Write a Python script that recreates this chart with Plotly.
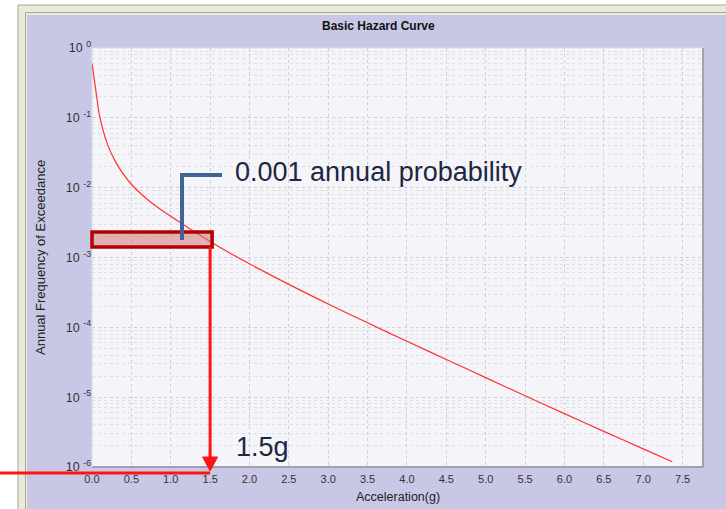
import plotly.graph_objects as go

# ---- hazard curve data -------------------------------------------------
accel_g = [0.0, 0.05, 0.1, 0.2, 0.3, 0.4, 0.5, 0.6, 0.7, 0.85, 1.0, 1.25, 1.5, 1.75,
           2.0, 2.5, 3.0, 3.5, 4.0, 4.5, 5.0, 5.5, 6.0, 6.5, 7.0, 7.37]
annual_freq = [0.6, 0.24, 0.102, 0.0407, 0.0234, 0.0155, 0.0112, 0.0086, 0.00684,
               0.00507, 0.00389, 0.00254, 0.0017, 0.00116, 8.13e-4, 4.12e-4,
               2.16e-4, 1.16e-4, 6.31e-5, 3.47e-5, 1.905e-5, 1.047e-5, 5.82e-6,
               3.24e-6, 1.82e-6, 1.19e-6]

x_ticks = [0.0, 0.5, 1.0, 1.5, 2.0, 2.5, 3.0, 3.5, 4.0, 4.5, 5.0, 5.5, 6.0, 6.5, 7.0, 7.5]
y_ticks = [1, 1e-1, 1e-2, 1e-3, 1e-4, 1e-5, 1e-6]
y_ticktext = ["10 <sup>0</sup>", "10 <sup>-1</sup>", "10 <sup>-2</sup>", "10 <sup>-3</sup>",
              "10 <sup>-4</sup>", "10 <sup>-5</sup>", "10 <sup>-6</sup>"]
y_minor = [m * d for d in [1e-1, 1e-2, 1e-3, 1e-4, 1e-5, 1e-6] for m in range(2, 10)]

design_accel = 1.5
target_label = "0.001 annual probability"
accel_label = "1.5g"

# ---- layout geometry (pixels) -------------------------------------------
FIG_W, FIG_H = 726, 509
L, T, PW, PH = 92, 48, 611, 419
X_MAX = 7.76


def px(xpix):
    return (xpix - L) / PW


def py(ypix):
    return 1 - (ypix - T) / PH


def xdata_px(xv):
    return L + xv / X_MAX * PW


LAV = "#c8c8e6"
PLOT_BG = "#f4f4f9"
GRID = "#d0d0d8"
RED = "#ff1414"
FONT = "Liberation Sans, Arial"

fig = go.Figure()
fig.add_trace(go.Scatter(
    x=accel_g, y=annual_freq, mode="lines",
    line=dict(color="#ff3030", width=1.2, shape="spline", smoothing=0.8),
    showlegend=False, hoverinfo="skip",
))

shapes = []


def rect(x0, y0, x1, y1, **kw):
    shapes.append(dict(type="rect", xref="paper", yref="paper",
                       x0=px(x0), x1=px(x1), y0=py(y1), y1=py(y0), **kw))


def line(x0, y0, x1, y1, **kw):
    shapes.append(dict(type="line", xref="paper", yref="paper",
                       x0=px(x0), x1=px(x1), y0=py(y0), y1=py(y1), **kw))


def path(points, **kw):
    d = "M " + " L ".join(f"{px(a):.5f},{py(b):.5f}" for a, b in points)
    if kw.pop("closed", False):
        d += " Z"
    shapes.append(dict(type="path", xref="paper", yref="paper", path=d, **kw))


# window frame and chart panel
rect(18, 5, 740, 520, fillcolor="#ebead9", line=dict(color="#a6a697", width=1), layer="below")
rect(25.5, 12.5, 740, 520, fillcolor="rgba(0,0,0,0)", line=dict(color="#a9a898", width=1), layer="below")
rect(27, 15, 740, 520, fillcolor=LAV, line=dict(width=0), layer="below")
rect(L, T, L + PW, T + PH, fillcolor=PLOT_BG, line=dict(color="#dcdce6", width=1), layer="below")
line(L + PW, T, L + PW, T + PH, line=dict(color="#8e8e9c", width=1.5), layer="below")
line(L, T + PH, L + PW, T + PH, line=dict(color="#8e8e9c", width=1.5), layer="below")

# callout: highlight band, leader, and read-down arrow
xa = xdata_px(design_accel)
rect(L, 232, xa + 2, 247, fillcolor="rgba(214,120,120,0.55)",
     line=dict(color="#b00000", width=3.5), layer="above")
path([(182, 240), (182, 175), (222, 175)], line=dict(color="#3f6594", width=4), layer="above")
line(xa, 247, xa, 459, line=dict(color=RED, width=3), layer="above")
path([(xa - 7.5, 457), (xa + 7.5, 457), (xa, 471)], closed=True,
     fillcolor=RED, line=dict(color=RED, width=1), layer="above")
line(-5, 473, xa, 473, line=dict(color=RED, width=3), layer="above")


def label(text, x, y, size, color, xanchor="center", **kw):
    return dict(text=text, x=px(x), y=py(y), xref="paper", yref="paper",
                xanchor=xanchor, yanchor="middle", showarrow=False,
                font=dict(family=FONT, size=size, color=color), **kw)


annotations = [
    label("<b>Basic Hazard Curve</b>", 378, 26, 12, "#111111"),
    label("Annual Frequency of Exceedance", 40, 258, 13, "#222222", textangle=-90),
    label("Acceleration(g)", 398, 497, 12.5, "#222222"),
    label(target_label, 233, 172, 27, "#1c2740", xanchor="left"),
    label(accel_label, 234, 447, 27, "#1c2740", xanchor="left"),
]

fig.update_layout(
    width=FIG_W, height=FIG_H,
    margin=dict(l=L, r=FIG_W - L - PW, t=T, b=FIG_H - T - PH, pad=0),
    paper_bgcolor="white", plot_bgcolor="rgba(0,0,0,0)",
    shapes=shapes, annotations=annotations, showlegend=False,
    xaxis=dict(range=[0, X_MAX], tickmode="array", tickvals=x_ticks,
               ticktext=[f"{v:.1f}" for v in x_ticks],
               showgrid=True, gridcolor=GRID, griddash="dot", gridwidth=1,
               zeroline=False, showline=False, ticks="", ticklabelstandoff=4,
               tickfont=dict(family=FONT, size=11, color="#333333")),
    yaxis=dict(type="log", range=[-6, 0], tickmode="array", tickvals=y_ticks,
               ticktext=y_ticktext, showgrid=True, gridcolor=GRID, griddash="dot",
               gridwidth=1, zeroline=False, showline=False, ticks="",
               minor=dict(tickvals=y_minor, showgrid=True, gridcolor="#dedee6",
                          griddash="dot", gridwidth=1),
               tickfont=dict(family=FONT, size=12.5, color="#333333")),
)

fig.write_html("out.html", config={"displayModeBar": False})
